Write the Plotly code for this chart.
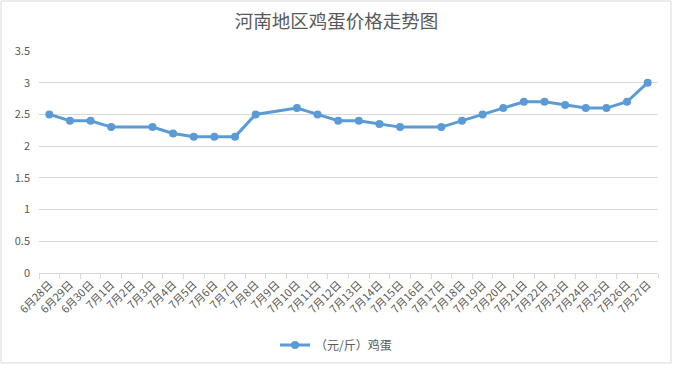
import plotly.graph_objects as go

dates = ["6月28日", "6月29日", "6月30日", "7月1日", "7月2日", "7月3日", "7月4日", "7月5日",
         "7月6日", "7月7日", "7月8日", "7月9日", "7月10日", "7月11日", "7月12日", "7月13日",
         "7月14日", "7月15日", "7月16日", "7月17日", "7月18日", "7月19日", "7月20日", "7月21日",
         "7月22日", "7月23日", "7月24日", "7月25日", "7月26日", "7月27日"]
prices = [2.5, 2.4, 2.4, 2.3, None, 2.3, 2.2, 2.15,
          2.15, 2.15, 2.5, None, 2.6, 2.5, 2.4, 2.4,
          2.35, 2.3, None, 2.3, 2.4, 2.5, 2.6, 2.7,
          2.7, 2.65, 2.6, 2.6, 2.7, 3.0]
series_name = "（元/斤）鸡蛋"
title_text = "河南地区鸡蛋价格走势图"

W, H = 673, 365
ml, mr, mt, mb = 39, 15, 51, 92
pw, ph = W - ml - mr, H - mt - mb

font_family = "Noto Sans CJK SC, Microsoft YaHei, sans-serif"
grey = "#595959"
blue = "#5B9BD5"

fig = go.Figure()
fig.add_trace(go.Scatter(
    x=dates, y=prices, name=series_name, mode="lines+markers",
    connectgaps=True,
    line=dict(color=blue, width=3),
    marker=dict(color=blue, size=8),
    showlegend=True,
))

fig.update_layout(
    width=W, height=H,
    margin=dict(l=ml, r=mr, t=mt, b=mb, autoexpand=False),
    paper_bgcolor="white", plot_bgcolor="white",
    font=dict(family=font_family, color=grey, size=11),
    title=dict(text=title_text, x=0.5, xanchor="center", y=1 - 22 / H, yanchor="middle",
               font=dict(size=18.5, color=grey, family=font_family)),
    xaxis=dict(
        type="category", tickangle=-45, tickson="boundaries",
        ticks="outside", ticklen=5, tickcolor="#d9d9d9",
        showline=True, linecolor="#d9d9d9", linewidth=1,
        showgrid=False, tickfont=dict(size=11, color=grey),
        range=[-0.5, len(dates) - 0.5],
    ),
    yaxis=dict(
        range=[0, 3.5], dtick=0.5, showgrid=True, gridcolor="#d9d9d9", gridwidth=1,
        zeroline=False, showline=False, tickfont=dict(size=11, color=grey),
        ticklabelstandoff=8,
    ),
    legend=dict(orientation="h", x=(336 - ml) / pw, xanchor="center",
                y=-(345 - mt - ph) / ph, yanchor="middle",
                font=dict(size=12, color=grey)),
    shapes=[dict(
        type="rect", xref="paper", yref="paper",
        x0=(1 - ml) / pw, x1=(W - 2 - ml) / pw,
        y0=-(H - 2 - mt - ph) / ph, y1=1 + (mt - 1) / ph,
        line=dict(color="#d9d9d9", width=1), fillcolor="rgba(0,0,0,0)", layer="below",
    )],
)

fig.write_html("out.html", config={"displayModeBar": False},
               post_script="document.body.style.margin='0';document.body.style.overflow='hidden';")
